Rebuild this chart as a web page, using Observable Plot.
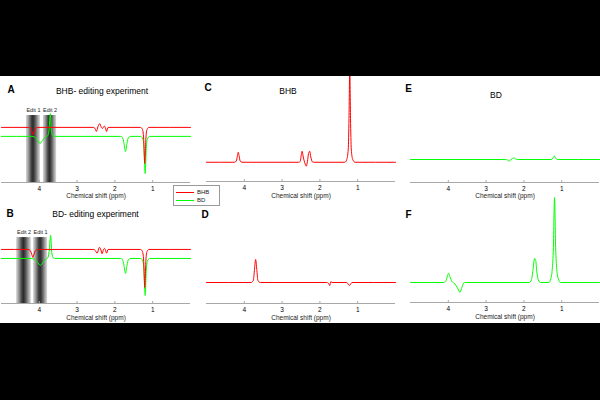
<!DOCTYPE html>
<html><head><meta charset="utf-8">
<script src="https://cdn.jsdelivr.net/npm/d3@7"></script>
<script src="https://cdn.jsdelivr.net/npm/@observablehq/plot@0.6"></script>
<style>
html,body{margin:0;padding:0;background:#000;}
#root{position:relative;width:600px;height:400px;background:#000;overflow:hidden;font-family:"Liberation Sans",Arial,sans-serif;}
#white{position:absolute;left:0;top:76px;width:600px;height:247px;background:#fff;}
.blk{position:absolute;left:0;width:600px;background:#000;z-index:10;}
.lbl{position:absolute;transform:translate(-50%,-50%);white-space:nowrap;color:#000;z-index:5;line-height:1;}
.p{position:absolute;z-index:2;}
#legend{position:absolute;left:173px;top:185px;width:45px;height:19px;border:1px solid #999;background:#fff;z-index:6;}
</style></head><body>
<div id="root"><div id="white"></div>
<div class="blk" style="top:0;height:76px"></div>
<div class="blk" style="top:323px;height:77px"></div>
</div>
<script>
// ---------- data ----------
const seriesNames = ["BHB", "BD"];
const seriesColors = ["#ff0000", "#00ff00"];
const ppmTicks = [4, 3, 2, 1];
const axisLabel = "Chemical shift (ppm)";

// Panel A (BHB-editing experiment): [ppm, intensity]
const aBHB = [[5.0,0],[4.28,0],[4.23,-0.08],[4.19,-0.45],[4.17,-0.7],[4.14,-0.45],[4.10,-0.08],[4.04,0],
  [2.56,0],[2.52,-0.15],[2.49,-0.38],[2.45,0.05],[2.40,0.35],[2.36,0.0],[2.33,-0.1],[2.28,0.12],[2.25,-0.05],[2.22,-0.38],[2.18,0],
  [1.32,0],[1.27,-0.2],[1.24,-1.0],[1.21,-3.4],[1.18,-1.0],[1.15,-0.2],[1.10,0],[0,0]];
const aBD = [[5.0,-0.85],[4.20,-0.85],[4.12,-0.92],[4.05,-1.2],[3.98,-1.52],[3.92,-1.25],[3.85,-0.95],[3.78,-0.8],
  [3.74,-0.2],[3.71,1.3],[3.68,-0.3],[3.64,-0.78],[3.58,-0.85],
  [1.85,-0.85],[1.80,-0.95],[1.76,-1.5],[1.72,-2.28],[1.68,-1.5],[1.64,-0.95],[1.58,-0.85],
  [1.32,-0.85],[1.26,-1.1],[1.23,-2.0],[1.20,-4.35],[1.17,-2.0],[1.14,-1.1],[1.08,-0.85],[0,-0.85]];
const aEdits = [{label:"Edit 1", from:4.34, to:3.97},{label:"Edit 2", from:3.89, to:3.54}];

// Panel B (BD-editing experiment)
const bBHB = [[5.0,0],[4.30,0],[4.24,-0.1],[4.20,-0.45],[4.17,-0.75],[4.14,-0.45],[4.10,-0.1],[4.04,0],
  [2.56,0],[2.52,-0.1],[2.47,-0.35],[2.41,0.2],[2.37,-0.05],[2.34,-0.4],[2.30,0.0],[2.28,0.1],[2.25,-0.05],[2.22,-0.35],[2.18,0],
  [1.32,0],[1.27,-0.2],[1.24,-1.0],[1.21,-3.6],[1.18,-1.0],[1.15,-0.2],[1.10,0],[0,0]];
const bBD = [[5.0,-0.85],[4.22,-0.85],[4.13,-0.92],[4.05,-1.2],[3.97,-1.5],[3.90,-1.2],[3.84,-0.95],[3.78,-0.82],
  [3.74,-0.2],[3.70,1.32],[3.67,-0.3],[3.63,-0.78],[3.58,-0.85],
  [1.85,-0.85],[1.80,-0.95],[1.76,-1.5],[1.72,-2.26],[1.68,-1.5],[1.64,-0.95],[1.58,-0.85],
  [1.32,-0.85],[1.26,-1.1],[1.23,-2.0],[1.20,-4.34],[1.17,-2.0],[1.14,-1.1],[1.08,-0.85],[0,-0.85]];
const bEdits = [{label:"Edit 2", from:4.60, to:4.21},{label:"Edit 1", from:4.15, to:3.78}];
const editTop = 1.12;

// Panel C (BHB)
const cBHB = [[5.0,0],[4.26,0],[4.21,0.15],[4.18,0.8],[4.16,1.14],[4.14,0.8],[4.11,0.15],[4.06,0],
  [2.56,0],[2.52,0.1],[2.49,0.9],[2.47,1.26],[2.44,0.6],[2.39,-0.2],[2.36,-0.45],[2.33,0.1],[2.30,1.0],[2.27,1.26],[2.24,0.6],[2.20,0.05],[2.15,0],
  [1.34,0],[1.29,0.3],[1.25,1.5],[1.23,5],[1.21,10.5],[1.19,5],[1.17,1.5],[1.13,0.3],[1.07,0],[0,0]];
// Panel D (BHB)
const dBHB = [[5.0,0],[3.82,0],[3.76,0.25],[3.73,1.5],[3.70,2.63],[3.67,1.5],[3.64,0.25],[3.58,0],
  [1.82,0],[1.77,-0.1],[1.74,-0.35],[1.71,0.1],[1.68,0],
  [1.29,0],[1.25,-0.2],[1.22,-0.35],[1.19,-0.2],[1.15,0],[0,0]];
// Panel E (BD)
const eBD = [[5.0,0],[2.48,0],[2.43,-0.08],[2.40,-0.18],[2.35,-0.05],[2.30,0.12],[2.26,0.2],[2.22,0.05],[2.16,0],
  [1.28,0],[1.23,0.15],[1.19,0.4],[1.16,0.15],[1.11,0],[0,0]];
// Panel F (BD)
const fBD = [[5.0,0],[4.12,0],[4.06,0.2],[4.02,0.8],[3.99,1.05],[3.96,0.7],[3.90,0.1],[3.84,-0.1],[3.76,-0.6],[3.69,-1.12],[3.65,-0.7],[3.60,-0.1],[3.54,0],
  [1.86,0],[1.80,0.3],[1.76,1.4],[1.72,2.74],[1.69,2.6],[1.66,1.3],[1.62,0.3],[1.56,0],
  [1.34,0],[1.29,0.4],[1.25,1.5],[1.22,4],[1.19,9.7],[1.16,4],[1.13,1.5],[1.09,0.4],[1.03,0],[0,0]];

// ---------- drawing ----------
const root = document.getElementById("root");
const FONT = '"Liberation Sans", Arial, sans-serif';

function panel(o) {
  const frameH = o.height - o.mB;
  const marks = [];
  if (o.edits) {
    const gid = "grad" + o.id;
    marks.push(() => {
      const defs = d3.create("svg:defs");
      const g = defs.append("linearGradient").attr("id", gid).attr("x1", "0").attr("x2", "1").attr("y1", "0").attr("y2", "0");
      [[0,"#d8d8d8"],[0.18,"#9a9a9a"],[0.38,"#454545"],[0.5,"#2c2c2c"],[0.65,"#555"],[0.82,"#9a9a9a"],[1,"#dcdcdc"]]
        .forEach(([k, c]) => g.append("stop").attr("offset", k).attr("stop-color", c));
      return defs.node();
    });
    marks.push(Plot.rect(o.edits, {x1: "from", x2: "to", y1: () => o.yDomain[0], y2: () => editTop, fill: `url(#${gid})`}));
    marks.push(Plot.text(o.edits, {x: d => (d.from + d.to) / 2, y: () => editTop, text: "label", dy: -5, fontSize: 5.5, fill: "#222"}));
  }
  marks.push(Plot.ruleY([o.yDomain[0]], {stroke: "#a8a8a8"}));
  marks.push(Plot.tickX(ppmTicks, {x: d => d, insetTop: frameH - 2, stroke: "#a8a8a8"}));
  marks.push(Plot.axisX(ppmTicks, {tickSize: 0, tickPadding: 3.5, fontSize: 6.5}));
  marks.push(Plot.text([axisLabel], {frameAnchor: "bottom", dy: o.labelDy, fontSize: 6.5, fill: "#222"}));
  o.series.forEach(s => marks.push(Plot.line(s.data, {x: d => d[0], y: d => d[1], stroke: s.color, strokeWidth: 1, curve: "monotone-x"})));
  const svg = Plot.plot({
    width: o.width, height: o.height,
    marginTop: 0, marginLeft: o.mL, marginRight: o.mR, marginBottom: o.mB,
    x: {domain: [5, 0]},
    y: {domain: o.yDomain, axis: null},
    style: {background: "transparent", fontFamily: FONT, overflow: "visible"},
    marks
  });
  const div = document.createElement("div");
  div.className = "p";
  div.style.left = o.left + "px";
  div.style.top = o.top + "px";
  div.appendChild(svg);
  root.appendChild(div);
}

panel({id: "A", left: 0, top: 76, width: 200, height: 124, mL: 1, mR: 10, mB: 18, labelDy: 15,
  yDomain: [-5.2, 4.8], edits: aEdits,
  series: [{data: aBD, color: seriesColors[1]}, {data: aBHB, color: seriesColors[0]}]});
panel({id: "B", left: 0, top: 202, width: 200, height: 120, mL: 1, mR: 10, mB: 19, labelDy: 16,
  yDomain: [-5.1, 4.43], edits: bEdits,
  series: [{data: bBD, color: seriesColors[1]}, {data: bBHB, color: seriesColors[0]}]});
panel({id: "C", left: 200, top: 76, width: 200, height: 124, mL: 6, mR: 5, mB: 19, labelDy: 16,
  yDomain: [-2.2, 9.8], series: [{data: cBHB, color: seriesColors[0]}]});
panel({id: "D", left: 200, top: 202, width: 200, height: 120, mL: 6, mR: 5, mB: 19, labelDy: 16,
  yDomain: [-2.4, 9.14], series: [{data: dBHB, color: seriesColors[0]}]});
panel({id: "E", left: 404, top: 76, width: 196, height: 124, mL: 6, mR: 1, mB: 18, labelDy: 15.5,
  yDomain: [-2.63, 9.49], series: [{data: eBD, color: seriesColors[1]}]});
panel({id: "F", left: 404, top: 192, width: 196, height: 130, mL: 6, mR: 1, mB: 20, labelDy: 16,
  yDomain: [-2.29, 10.29], series: [{data: fBD, color: seriesColors[1]}]});

// labels
const labels = [
  ["A", 11, 90, 10, true], ["BHB- editing experiment", 102, 90.5, 8.5, false],
  ["B", 10, 214, 10, true], ["BD- editing experiment", 95.5, 214, 8.5, false],
  ["C", 208, 88, 10, true], ["BHB", 288, 90.5, 8.5, false],
  ["D", 205, 214.5, 10, true],
  ["E", 408.5, 89, 10, true], ["BD", 496, 95, 8.5, false],
  ["F", 408.5, 215, 10, true]
];
labels.forEach(([t, x, y, fs, bold]) => {
  const d = document.createElement("div");
  d.className = "lbl";
  d.textContent = t;
  d.style.left = x + "px"; d.style.top = y + "px";
  d.style.fontSize = fs + "px";
  d.style.fontWeight = bold ? "bold" : "normal";
  root.appendChild(d);
});

// legend
const leg = document.createElement("div");
leg.id = "legend";
seriesNames.forEach((n, i) => {
  const row = document.createElement("div");
  row.style.cssText = `position:absolute;left:2px;top:${2 + i * 8}px;height:8px;display:flex;align-items:center;font-size:6px;color:#222;`;
  row.innerHTML = `<span style="display:inline-block;width:18px;height:1px;background:${seriesColors[i]};margin-right:3px"></span>${n}`;
  leg.appendChild(row);
});
root.appendChild(leg);
</script>
</body></html>
